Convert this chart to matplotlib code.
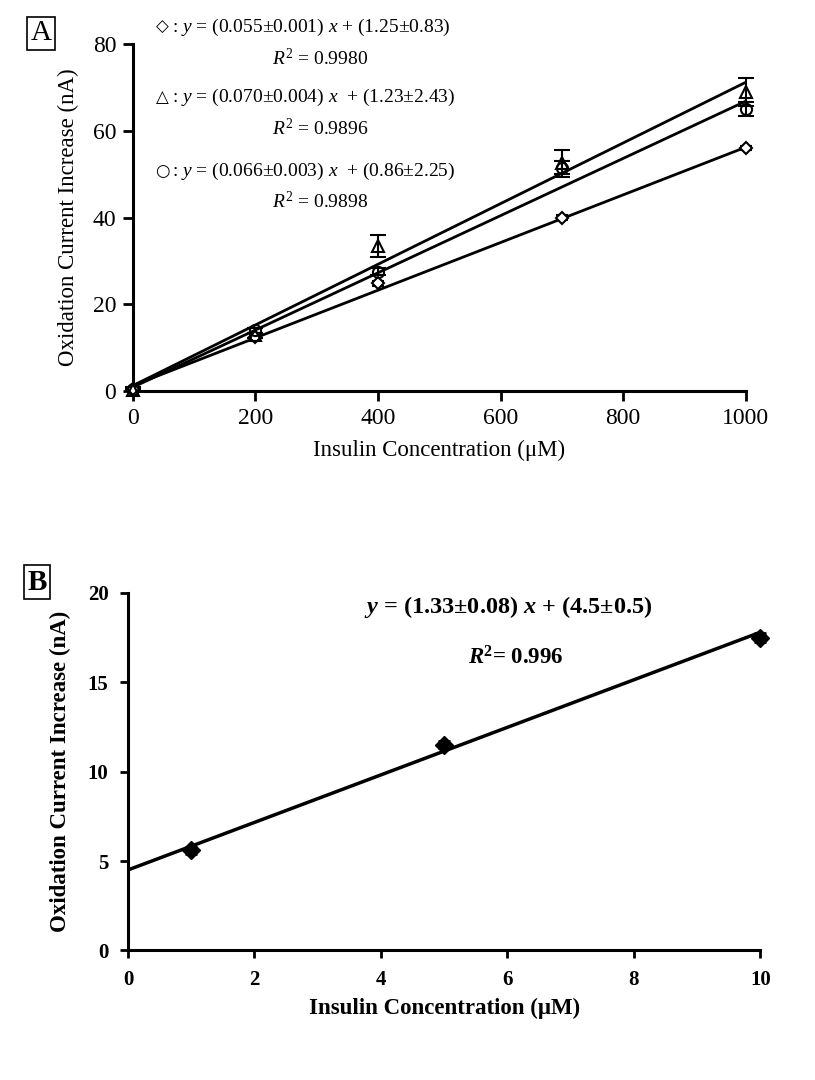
import numpy as np
import matplotlib.pyplot as plt

plt.rcParams['font.family'] = ['Liberation Serif', 'DejaVu Sans']
plt.rcParams['mathtext.fontset'] = 'custom'
plt.rcParams['mathtext.rm'] = 'Liberation Serif'
plt.rcParams['mathtext.it'] = 'Liberation Serif:italic'
plt.rcParams['mathtext.bf'] = 'Liberation Serif:bold'
plt.rcParams['mathtext.bfit'] = 'Liberation Serif:bold:italic'

# panel A data
conc_a = np.array([0, 200, 400, 700, 1000])
diamond = np.array([0.4, 12.5, 24.8, 40.0, 56.0])
diamond_err = np.array([0.3, 0.5, 0.6, 0.5, 0.5])
triangle = np.array([0.2, 12.8, 33.5, 52.5, 69.0])
triangle_err = np.array([0.3, 0.6, 2.6, 3.2, 3.2])
circle = np.array([0.5, 14.0, 27.5, 51.5, 65.0])
circle_err = np.array([0.3, 0.6, 0.8, 1.5, 1.6])

fits_a = [(0.055, 1.25), (0.070, 1.23), (0.066, 0.86)]
symbols_a = ['◇', '△', '○']
eqs_a = [r': $y$ = (0.055±0.001) $x$ + (1.25±0.83)',
         r': $y$ = (0.070±0.004) $x$  + (1.23±2.43)',
         r': $y$ = (0.066±0.003) $x$  + (0.86±2.25)']
r2_a = ['0.9980', '0.9896', '0.9898']

# panel B data
conc_b = np.array([1, 5, 10])
current_b = np.array([5.6, 11.5, 17.5])
err_b = np.array([0.2, 0.2, 0.25])
fit_b = (1.33, 4.5)

fig = plt.figure(figsize=(8.15, 10.8), dpi=100)

# ---------- A ----------
ax = fig.add_axes([0.163, 0.638, 0.752, 0.321])
xs = np.array([0, 1000])
for m, b in fits_a:
    ax.plot(xs, m * xs + b, color='black', lw=2.0, zorder=2)
ax.errorbar(conc_a, diamond, yerr=diamond_err, fmt='D', ms=6, mfc='white',
            mec='black', mew=1.5, ecolor='black', capsize=4, elinewidth=1.5,
            capthick=2, clip_on=False, zorder=3)
ax.errorbar(conc_a, triangle, yerr=triangle_err, fmt='^', ms=9, mfc='none',
            mec='black', mew=1.5, ecolor='black', capsize=6, elinewidth=1.5,
            capthick=2.5, clip_on=False, zorder=3)
ax.errorbar(conc_a, circle, yerr=circle_err, fmt='o', ms=8, mfc='none',
            mec='black', mew=1.5, ecolor='black', capsize=6, elinewidth=1.5,
            capthick=2.5, clip_on=False, zorder=3)
ax.set_xlim(0, 1000)
ax.set_ylim(0, 80)
ax.set_xticks(range(0, 1001, 200))
ax.set_yticks(range(0, 81, 20))
for s in ['top', 'right']:
    ax.spines[s].set_visible(False)
for s in ['left', 'bottom']:
    ax.spines[s].set_linewidth(2.2)
ax.tick_params(direction='out', length=7, width=2, labelsize=17, pad=5)
ax.set_xlabel('Insulin Concentration (μM)', fontsize=16.5, labelpad=8)
ax.set_ylabel('Oxidation Current Increase (nA)', fontsize=16.5, labelpad=10)

ys = [[27, 58], [97, 128], [171, 201]]
for sym, e, r, (y1, y2) in zip(symbols_a, eqs_a, r2_a, ys):
    fig.text(162 / 815, 1 - y1 / 1080, sym, fontsize=12, family='DejaVu Sans',
             va='center', ha='center')
    fig.text(172 / 815, 1 - y1 / 1080, e, fontsize=14, va='center', ha='left')
    fig.text(320 / 815, 1 - y2 / 1080, r'$R^2$ = ' + r, fontsize=14,
             va='center', ha='center')

fig.text(41 / 815, 1 - 33 / 1080, 'A', fontsize=21, ha='center', va='center',
         bbox=dict(boxstyle='square,pad=0.12', fc='white', ec='black', lw=1.2))

# ---------- B ----------
bx = fig.add_axes([0.157, 0.120, 0.776, 0.331])
xb = np.array([0, 10])
bx.plot(xb, fit_b[0] * xb + fit_b[1], color='black', lw=2.5, zorder=2)
bx.errorbar(conc_b, current_b, yerr=err_b, fmt='D', ms=9, mfc='black',
            mec='black', ecolor='black', capsize=4, elinewidth=1.5,
            capthick=2, clip_on=False, zorder=3)
bx.set_xlim(0, 10)
bx.set_ylim(0, 20)
bx.set_xticks(range(0, 11, 2))
bx.set_yticks(range(0, 21, 5))
for s in ['top', 'right']:
    bx.spines[s].set_visible(False)
for s in ['left', 'bottom']:
    bx.spines[s].set_linewidth(2.2)
bx.tick_params(direction='out', length=6, width=2, labelsize=15, pad=8)
for lab in bx.get_xticklabels() + bx.get_yticklabels():
    lab.set_fontweight('bold')
bx.set_xlabel('Insulin Concentration (μM)', fontsize=16.5, fontweight='bold',
              labelpad=6)
bx.set_ylabel('Oxidation Current Increase (nA)', fontsize=16.5,
              fontweight='bold', labelpad=12)

fig.text(508 / 815, 1 - 607 / 1080,
         r'$\mathbfit{y}$ = (1.33±0.08) $\mathbfit{x}$ + (4.5±0.5)',
         fontsize=17.5, fontweight='bold', ha='center', va='center')
fig.text(516 / 815, 1 - 658 / 1080, r'$\mathbfit{R}^{\mathbf{2}}$= 0.996',
         fontsize=16.5, fontweight='bold', ha='center', va='center')

fig.text(37 / 815, 1 - 582 / 1080, 'B', fontsize=21, fontweight='bold',
         ha='center', va='center',
         bbox=dict(boxstyle='square,pad=0.12', fc='white', ec='black', lw=1.2))

fig.savefig('out.png', dpi=100)
